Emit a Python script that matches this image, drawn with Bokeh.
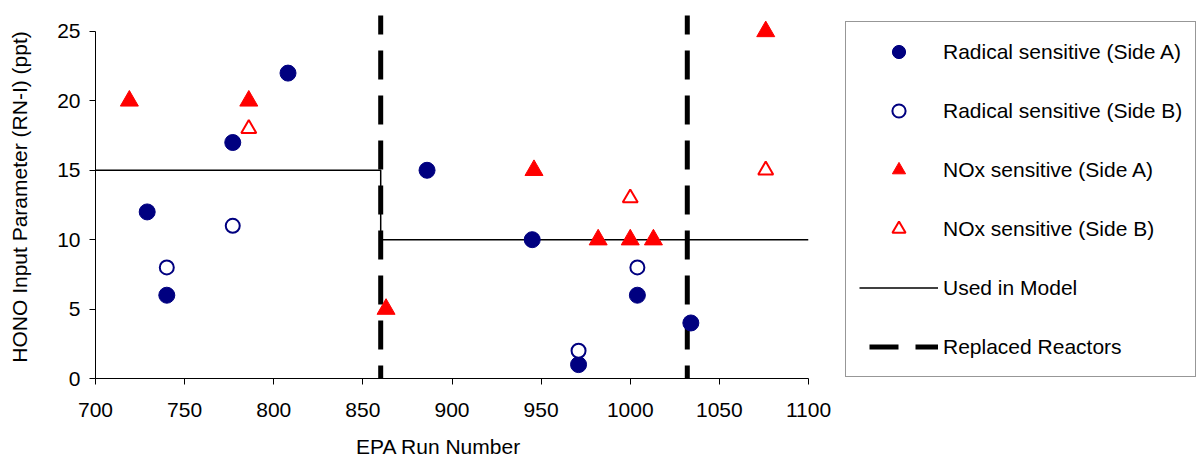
from bokeh.plotting import figure
from bokeh.models import Range1d, FixedTicker, Legend, LegendItem, Label
from bokeh.layouts import row
from bokeh.embed import file_html
from bokeh.resources import INLINE

# ---- data ----
rad_a_run = [729, 740, 777, 808, 886, 945, 971, 1004, 1034]
rad_a_hono = [12, 6, 17, 22, 15, 10, 1, 6, 4]
rad_b_run = [740, 777, 971, 1004]
rad_b_hono = [8, 11, 2, 8]
nox_a_run = [719, 786, 863, 946, 982, 1000, 1013, 1076]
nox_a_hono = [20, 20, 5, 15, 10, 10, 10, 25]
nox_b_run = [786, 1000, 1076]
nox_b_hono = [18, 13, 15]
model_run = [700, 860, 860, 1100]
model_hono = [15, 15, 10, 10]
reactor_runs = [860, 1032]
x_ticks = [700, 750, 800, 850, 900, 950, 1000, 1050, 1100]
y_ticks = [0, 5, 10, 15, 20, 25]
legend_labels = ["Radical sensitive (Side A)", "Radical sensitive (Side B)",
                 "NOx sensitive (Side A)", "NOx sensitive (Side B)",
                 "Used in Model", "Replaced Reactors"]

FONT = "Liberation Sans"
NAVY = "#000080"
RED = "#FF0000"

p = figure(width=845, height=455, output_backend="svg", toolbar_location=None,
           x_range=Range1d(700, 1100), y_range=Range1d(0, 26.15),
           min_border_left=95, min_border_right=37, min_border_top=15, min_border_bottom=77)
p.outline_line_color = None
p.background_fill_color = "white"
p.border_fill_color = "white"
p.xgrid.visible = False
p.ygrid.visible = False

for ax in (p.xaxis[0], p.yaxis[0]):
    ax.axis_line_color = "black"
    ax.axis_line_width = 1
    ax.major_tick_line_color = "black"
    ax.major_tick_out = 6
    ax.major_tick_in = 0
    ax.minor_tick_line_color = None
    ax.major_label_text_font = FONT
    ax.major_label_text_font_size = "21px"
    ax.major_label_text_color = "black"

p.xaxis[0].ticker = FixedTicker(ticks=x_ticks)
p.yaxis[0].ticker = FixedTicker(ticks=y_ticks)
p.yaxis[0].bounds = (0, 25)
p.xaxis[0].major_label_standoff = 18
p.yaxis[0].major_label_standoff = 9

p.yaxis[0].axis_label = "HONO Input Parameter (RN-I) (ppt)"
p.yaxis[0].axis_label_text_font = FONT
p.yaxis[0].axis_label_text_font_size = "21px"
p.yaxis[0].axis_label_text_font_style = "normal"
p.yaxis[0].axis_label_text_color = "black"
p.yaxis[0].axis_label_standoff = 23

# model step line
p.line(model_run, model_hono, line_color="black", line_width=1.5)

# replaced reactors (dashed verticals)
p.segment(x0=reactor_runs, y0=[26.87] * len(reactor_runs),
          x1=reactor_runs, y1=[0] * len(reactor_runs),
          line_color="black", line_width=5, line_dash="29 16")

p.scatter(rad_a_run, rad_a_hono, marker="circle", size=16,
          fill_color=NAVY, line_color=NAVY, line_width=1)
p.scatter(rad_b_run, rad_b_hono, marker="circle", size=14,
          fill_color="white", line_color=NAVY, line_width=2)
p.scatter(nox_a_run, nox_a_hono, marker="triangle", size=18,
          fill_color=RED, line_color=RED, line_width=1)
p.scatter(nox_b_run, nox_b_hono, marker="triangle", size=15,
          fill_color="white", line_color=RED, line_width=2)

xlab = Label(x=892.5, y=-4.92, text="EPA Run Number", text_align="center",
             text_baseline="alphabetic", text_font=FONT, text_font_size="21px",
             text_color="black")
p.add_layout(xlab, "below")

# ---- legend panel (separate canvas to the right of the plot) ----
# The same series are re-used here only as legend proxies; the ranges of this
# canvas keep them out of view, so only the legend shows.
q = figure(width=351, height=455, output_backend="svg", toolbar_location=None,
           x_range=Range1d(0, 1), y_range=Range1d(0, 1),
           x_axis_location=None, y_axis_location=None,
           min_border_left=0, min_border_right=0, min_border_top=0, min_border_bottom=0)
q.outline_line_color = None
q.xgrid.visible = False
q.ygrid.visible = False
q.background_fill_color = "white"
q.border_fill_color = "white"

g_ra = q.scatter(rad_a_run, rad_a_hono, marker="circle", fill_color=NAVY,
                 line_color=NAVY, line_width=1)
g_rb = q.scatter(rad_b_run, rad_b_hono, marker="circle", fill_color="white",
                 line_color=NAVY, line_width=2)
g_na = q.scatter(nox_a_run, nox_a_hono, marker="triangle", fill_color=RED,
                 line_color=RED, line_width=1)
g_nb = q.scatter(nox_b_run, nox_b_hono, marker="triangle", fill_color="white",
                 line_color=RED, line_width=2)
g_model = q.line(model_run, model_hono, line_color="black", line_width=1.5)
g_reac = q.line(reactor_runs, [0] * len(reactor_runs), line_color="black",
                line_width=5, line_dash="29 17", line_dash_offset=36)

legend = Legend(items=[
    LegendItem(label=legend_labels[0], renderers=[g_ra]),
    LegendItem(label=legend_labels[1], renderers=[g_rb]),
    LegendItem(label=legend_labels[2], renderers=[g_na]),
    LegendItem(label=legend_labels[3], renderers=[g_nb]),
    LegendItem(label=legend_labels[4], renderers=[g_model]),
    LegendItem(label=legend_labels[5], renderers=[g_reac]),
], location=(0, 1))
legend.label_text_font = FONT
legend.label_text_font_size = "21px"
legend.label_text_color = "black"
legend.glyph_width = 79
legend.glyph_height = 33
legend.label_height = 33
legend.spacing = 26
legend.padding = 13
legend.margin = 0
legend.label_standoff = 5
legend.border_line_color = "#303030"
legend.border_line_width = 1
legend.background_fill_color = "white"
legend.background_fill_alpha = 1
q.add_layout(legend, "center")

layout = row(p, q)
open("out.html", "w").write(file_html(layout, INLINE))
